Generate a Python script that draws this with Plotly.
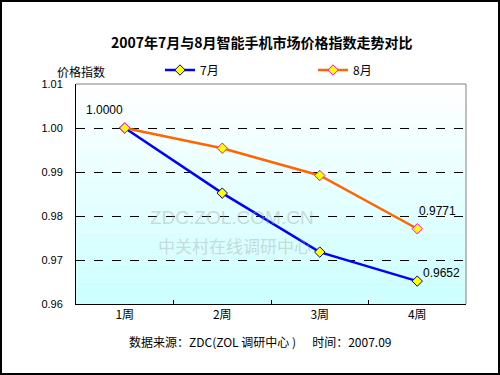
import plotly.graph_objects as go

weeks = ["1周", "2周", "3周", "4周"]
july = [1.0000, 0.9852, 0.9718, 0.9652]
aug = [1.0000, 0.9954, 0.9892, 0.9771]
yticks = [0.96, 0.97, 0.98, 0.99, 1.00, 1.01]

W, H = 500, 375
L, R, T, B = 76, 34, 84, 71
PW, PH = W - L - R, H - T - B

def px_x(p):
    return (p - L) / PW

def px_y(p):
    return (H - B - p) / PH

CJK = "Noto Sans CJK SC, Arial, sans-serif"

fig = go.Figure()
fig.add_trace(go.Scatter(
    x=weeks, y=july, name="7月", mode="lines+markers", legend="legend",
    line=dict(color="#0000ff", width=2.5),
    marker=dict(symbol="diamond", size=8, color="#ffff00", line=dict(color="#000080", width=1)),
))
fig.add_trace(go.Scatter(
    x=weeks, y=aug, name="8月", mode="lines+markers", legend="legend2",
    line=dict(color="#ff6600", width=2.5),
    marker=dict(symbol="diamond", size=8, color="#ffff00", line=dict(color="#ff00ff", width=1)),
))

shapes = []
n = 40
for i in range(n):
    t = i / (n - 1)
    r = int(255 + (204 - 255) * t)
    shapes.append(dict(type="rect", xref="x domain", yref="y domain",
                       x0=0, x1=1, y0=1 - (i + 1) / n, y1=1 - i / n,
                       fillcolor=f"rgb({r},255,255)", line=dict(width=0), layer="below"))
shapes.append(dict(type="line", xref="x domain", yref="y domain", x0=0, x1=1, y0=1, y1=1,
                   line=dict(color="#808080", width=1)))
shapes.append(dict(type="line", xref="x domain", yref="y domain", x0=1, x1=1, y0=0, y1=1,
                   line=dict(color="#808080", width=1)))
shapes.append(dict(type="rect", xref="paper", yref="paper",
                   x0=px_x(1), x1=px_x(W - 1), y0=px_y(H - 1), y1=px_y(1),
                   line=dict(color="black", width=2)))

annotations = [
    dict(text="<b>2007年7月与8月智能手机市场价格指数走势对比</b>", xref="paper", yref="paper",
         x=px_x(262), y=px_y(30), showarrow=False, font=dict(size=14, color="black", family=CJK)),
    dict(text="价格指数", xref="paper", yref="paper", x=px_x(55), y=px_y(61),
         showarrow=False, font=dict(size=12, color="black", family=CJK)),
    dict(text="数据来源：ZDC(ZOL 调研中心 )      时间：2007.09", xref="paper", yref="paper",
         x=px_x(260), y=px_y(352), showarrow=False, font=dict(size=12, color="black", family=CJK)),
    dict(text=f"{july[0]:.4f}", x=weeks[0], y=july[0], xshift=-20, yshift=18, showarrow=False,
         font=dict(size=12, color="black", family="Arial")),
    dict(text=f"{aug[3]:.4f}", x=weeks[3], y=aug[3], xshift=20, yshift=18, showarrow=False,
         font=dict(size=12, color="black", family="Arial")),
    dict(text=f"{july[3]:.4f}", x=weeks[3], y=july[3], xshift=24, yshift=8, showarrow=False,
         font=dict(size=12, color="black", family="Arial")),
    dict(text="ZDC.ZOL.COM.CN", xref="paper", yref="paper", yanchor="bottom",
         x=px_x(232), y=px_y(230), showarrow=False,
         font=dict(size=19, color="rgba(160,160,160,0.4)", family="Arial")),
    dict(text="中关村在线调研中心", xref="paper", yref="paper", yanchor="top",
         x=px_x(234), y=px_y(231), showarrow=False,
         font=dict(size=17, color="rgba(160,160,160,0.4)", family=CJK)),
]

legend_common = dict(orientation="h", xanchor="left", yanchor="middle",
                     bgcolor="rgba(0,0,0,0)", itemwidth=30,
                     font=dict(size=12, color="black", family=CJK))

fig.update_layout(
    width=W, height=H,
    margin=dict(l=L, r=R, t=T, b=B),
    paper_bgcolor="white", plot_bgcolor="rgba(0,0,0,0)",
    shapes=shapes, annotations=annotations,
    showlegend=True,
    legend=dict(x=px_x(160), y=px_y(70), **legend_common),
    legend2=dict(x=px_x(313), y=px_y(70), **legend_common),
    xaxis=dict(type="category", range=[-0.5, 3.5], showline=True, linecolor="black", linewidth=1,
               ticks="inside", tickson="boundaries", ticklen=4, tickcolor="black",
               showgrid=False, tickfont=dict(size=12, color="black", family=CJK)),
    yaxis=dict(range=[0.96, 1.01], tickvals=yticks, tickformat=".2f", showline=True,
               linecolor="black", linewidth=1, ticks="", zeroline=False,
               showgrid=True, gridcolor="black", griddash="dash", gridwidth=1,
               tickfont=dict(size=11, color="black", family="Arial"), ticklabelstandoff=10),
)

fig.write_html("out.html", config={"displayModeBar": False},
               post_script="document.body.style.margin='0';")
